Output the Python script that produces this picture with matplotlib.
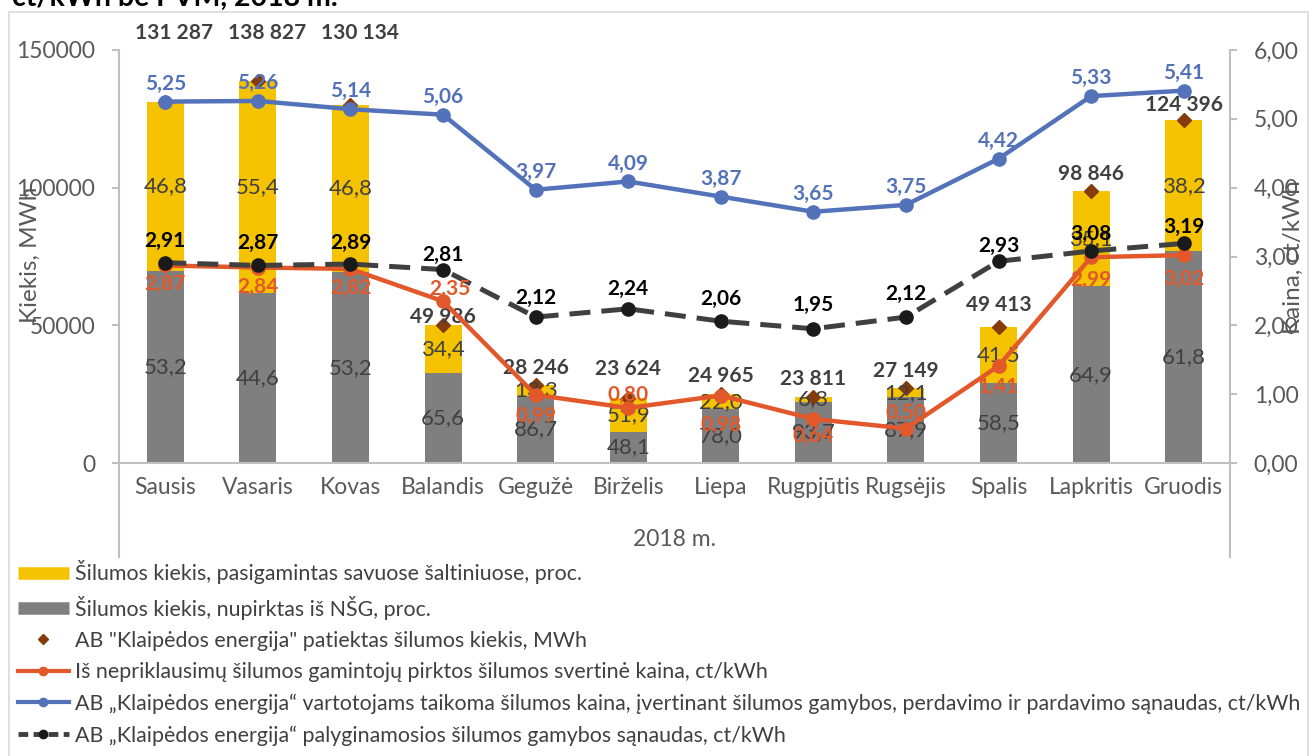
import matplotlib
matplotlib.use('Agg')
import matplotlib.pyplot as plt
from matplotlib.lines import Line2D
from matplotlib.patches import Rectangle

# ---------------- data ----------------
months = ['Sausis', 'Vasaris', 'Kovas', 'Balandis', 'Gegužė', 'Birželis',
          'Liepa', 'Rugpjūtis', 'Rugsėjis', 'Spalis', 'Lapkritis', 'Gruodis']
total_mwh = [131287, 138827, 130134, 49986, 28246, 23624,
             24965, 23811, 27149, 49413, 98846, 124396]
nsg_pct = [53.2, 44.6, 53.2, 65.6, 86.7, 48.1, 78.0, 93.7, 87.9, 58.5, 64.9, 61.8]
own_pct = [46.8, 55.4, 46.8, 34.4, 13.3, 51.9, 22.0, 6.3, 12.1, 41.5, 35.1, 38.2]
nsg_price = [2.87, 2.84, 2.82, 2.35, 0.99, 0.80, 0.98, 0.64, 0.50, 1.41, 2.99, 3.02]
consumer_price = [5.25, 5.26, 5.14, 5.06, 3.97, 4.09, 3.87, 3.65, 3.75, 4.42, 5.33, 5.41]
production_cost = [2.91, 2.87, 2.89, 2.81, 2.12, 2.24, 2.06, 1.95, 2.12, 2.93, 3.08, 3.19]
left_ticks = [0, 50000, 100000, 150000]
right_ticks = [0, 1, 2, 3, 4, 5, 6]

legend_labels = [
    'Šilumos kiekis, pasigamintas savuose šaltiniuose, proc.',
    'Šilumos kiekis, nupirktas iš NŠG, proc.',
    'AB "Klaipėdos energija" patiektas šilumos kiekis, MWh',
    'Iš nepriklausimų šilumos gamintojų pirktos šilumos svertinė kaina, ct/kWh',
    'AB „Klaipėdos energija“ vartotojams taikoma šilumos kaina, įvertinant šilumos gamybos, perdavimo ir pardavimo sąnaudas, ct/kWh',
    'AB „Klaipėdos energija“ palyginamosios šilumos gamybos sąnaudas, ct/kWh',
]

# ---------------- style ----------------
FONT = 'Lato'
plt.rcParams['font.family'] = [FONT, 'DejaVu Sans']
FS = 16.5        # axis text
FS_AXT = 17.5    # axis titles
FS_PCT = 16      # percent labels
FS_DAT = 15      # bold data labels
FS_LEG = 15.4
YELLOW = '#F5C200'
GRAY = '#7F7F7F'
ORANGE = '#E2582A'
BLUE = '#5372BA'
DASH = '#404040'
BROWN = '#843C0C'
TXT = '#595959'
LBL = '#404040'
SPINE = '#BFBFBF'

W, H = 1313, 756
fig = plt.figure(figsize=(W / 100, H / 100), dpi=100)

def fx(px):
    return px / W

def fy(py):
    return 1 - py / H

def px2pt(p):
    return p * 72 / 100

# outer chart border
fig.patches.append(Rectangle((fx(9), fy(780)), fx(1308) - fx(9), fy(12) - fy(780),
                             transform=fig.transFigure, fill=False,
                             edgecolor='#D9D9D9', lw=1.2))
# truncated title at the top
fig.text(fx(12), fy(6), 'ct/kWh be PVM, 2018 m.', fontsize=20.5, fontweight='bold',
         color='black', va='baseline', ha='left')

ax = fig.add_axes([fx(119), fy(463), fx(1230) - fx(119), fy(50) - fy(463)])
ax2 = ax.twinx()

x = list(range(len(months)))
gray_h = [t * p / 100 for t, p in zip(total_mwh, nsg_pct)]
yel_h = [t * p / 100 for t, p in zip(total_mwh, own_pct)]

bw = 0.40
ax.bar(x, gray_h, width=bw, color=GRAY, zorder=2)
ax.bar(x, yel_h, width=bw, bottom=gray_h, color=YELLOW, zorder=2)
ax.plot(x, total_mwh, linestyle='none', marker='D', markersize=7,
        color=BROWN, zorder=3)

ax.set_xlim(-0.5, len(months) - 0.5)
ax.set_ylim(0, 150000)
ax.set_yticks(left_ticks)
ax.set_yticklabels([str(v) for v in left_ticks])
ax.set_xticks(x)
ax.set_xticklabels(months)

ax2.set_ylim(0, 6)
ax2.set_yticks(right_ticks)
ax2.set_yticklabels([f'{v:.2f}'.replace('.', ',') for v in right_ticks])

for a in (ax, ax2):
    for s in a.spines.values():
        s.set_visible(False)
    a.set_facecolor('none')
ax.spines['left'].set_visible(True)
ax.spines['left'].set_color(SPINE)
ax.spines['bottom'].set_visible(True)
ax.spines['bottom'].set_color(SPINE)
ax2.spines['right'].set_visible(True)
ax2.spines['right'].set_color(SPINE)
for s in ('left', 'bottom'):
    ax.spines[s].set_linewidth(1.5)
ax2.spines['right'].set_linewidth(1.5)

ax.tick_params(axis='y', length=5, width=1.5, color=SPINE, labelsize=FS,
               labelcolor=TXT, pad=12)
ax.tick_params(axis='x', length=0, labelsize=FS, labelcolor=TXT, pad=10)
ax2.tick_params(axis='y', length=5, width=1.5, color=SPINE, labelsize=FS,
                labelcolor=TXT, pad=12)

# extension of the category axis frame down to the group label
ext = (557 - 463) / (463 - 50)
for xa in (0, 1):
    ax.plot([xa, xa], [0, -ext], transform=ax.transAxes, color=SPINE,
            lw=1.5, clip_on=False)
ax.text(0.5, -(540 - 463) / (463 - 50), '2018 m.', transform=ax.transAxes,
        ha='center', va='center', fontsize=FS, color=TXT)

fig.text(fx(30), fy(255), 'Kiekis, MWh', rotation=90, ha='center', va='center',
         fontsize=FS_AXT, color=TXT)
fig.text(fx(1293), fy(257), 'Kaina, ct/kWh', rotation=90, ha='center', va='center',
         fontsize=FS_AXT, color=TXT)

# lines on the price axis
ax2.plot(x, nsg_price, color=ORANGE, lw=3.2, marker='o', markersize=9.5, zorder=3)
ax2.plot(x, consumer_price, color=BLUE, lw=3.2, marker='o', markersize=9.5, zorder=3)
ax2.plot(x, production_cost, color=DASH, lw=3.6, dashes=(4.2, 2.2),
         marker='o', markersize=9.5, markerfacecolor='#1a1a1a',
         markeredgecolor='#1a1a1a', zorder=4)

# ---------- data labels ----------
def fmt_pct(v):
    return f'{v:.1f}'.replace('.', ',')

def fmt_price(v):
    return f'{v:.2f}'.replace('.', ',')

def fmt_tot(v):
    return f'{v:,}'.replace(',', ' ')

for i in x:
    ax.text(i, gray_h[i] / 2, fmt_pct(nsg_pct[i]), ha='center', va='center',
            fontsize=FS_PCT, color=LBL, zorder=5)
    ax.text(i, gray_h[i] + yel_h[i] / 2, fmt_pct(own_pct[i]), ha='center',
            va='center', fontsize=FS_PCT, color=LBL, zorder=5)

tot_dy = [0, 0, 0, 8, 17, 29, 18, 18, 17, 22, 17, 15]
for i in x:
    if i < 3:
        ax.annotate(fmt_tot(total_mwh[i]), xy=(i, 150000),
                    xytext=(px2pt(9), px2pt(17)), textcoords='offset points',
                    ha='center', va='center', fontsize=FS_DAT, fontweight='bold',
                    color=LBL, annotation_clip=False)
    else:
        ax.annotate(fmt_tot(total_mwh[i]), xy=(i, total_mwh[i]),
                    xytext=(0, px2pt(tot_dy[i])), textcoords='offset points',
                    ha='center', va='center', fontsize=FS_DAT, fontweight='bold',
                    color=LBL, zorder=6)

or_dy = [-19, -19, -19, 12, -21, 13, -29, -17, 16, -21, -23, -24]
or_dx = [0, 0, 0, 7, 0, 0, 0, 0, 0, 0, 0, 0]
for i in x:
    ax2.annotate(fmt_price(nsg_price[i]), xy=(i, nsg_price[i]),
                 xytext=(px2pt(or_dx[i]), px2pt(or_dy[i])), textcoords='offset points',
                 ha='center', va='center', fontsize=FS_DAT, fontweight='bold',
                 color=ORANGE, zorder=6)
for i in x:
    ax2.annotate(fmt_price(consumer_price[i]), xy=(i, consumer_price[i]),
                 xytext=(0, px2pt(18)), textcoords='offset points',
                 ha='center', va='center', fontsize=FS_DAT, fontweight='bold',
                 color=BLUE, zorder=6)
dc_dy = [22, 22, 21, 15, 19, 20, 22, 24, 23, 15, 17, 16]
for i in x:
    ax2.annotate(fmt_price(production_cost[i]), xy=(i, production_cost[i]),
                 xytext=(0, px2pt(dc_dy[i])), textcoords='offset points',
                 ha='center', va='center', fontsize=FS_DAT, fontweight='bold',
                 color='black', zorder=6)

# ---------- legend ----------
handles = [
    Line2D([], [], color=YELLOW, lw=9, solid_capstyle='butt'),
    Line2D([], [], color=GRAY, lw=9, solid_capstyle='butt'),
    Line2D([], [], color=BROWN, linestyle='none', marker='D', markersize=5.5),
    Line2D([], [], color=ORANGE, lw=3.0, marker='o', markersize=6),
    Line2D([], [], color=BLUE, lw=3.0, marker='o', markersize=6),
    Line2D([], [], color=DASH, lw=3.5, dashes=(2.0, 1.1), marker='o', markersize=6,
           markerfacecolor='#1a1a1a', markeredgecolor='#1a1a1a'),
]
fig.legend(handles, legend_labels, loc='upper left',
           bbox_to_anchor=(fx(14), fy(556)), frameon=False, fontsize=FS_LEG,
           labelcolor=LBL, handlelength=2.35, handletextpad=0.28,
           labelspacing=0.53, borderaxespad=0, borderpad=0.2)

fig.savefig('out.png', dpi=100)
